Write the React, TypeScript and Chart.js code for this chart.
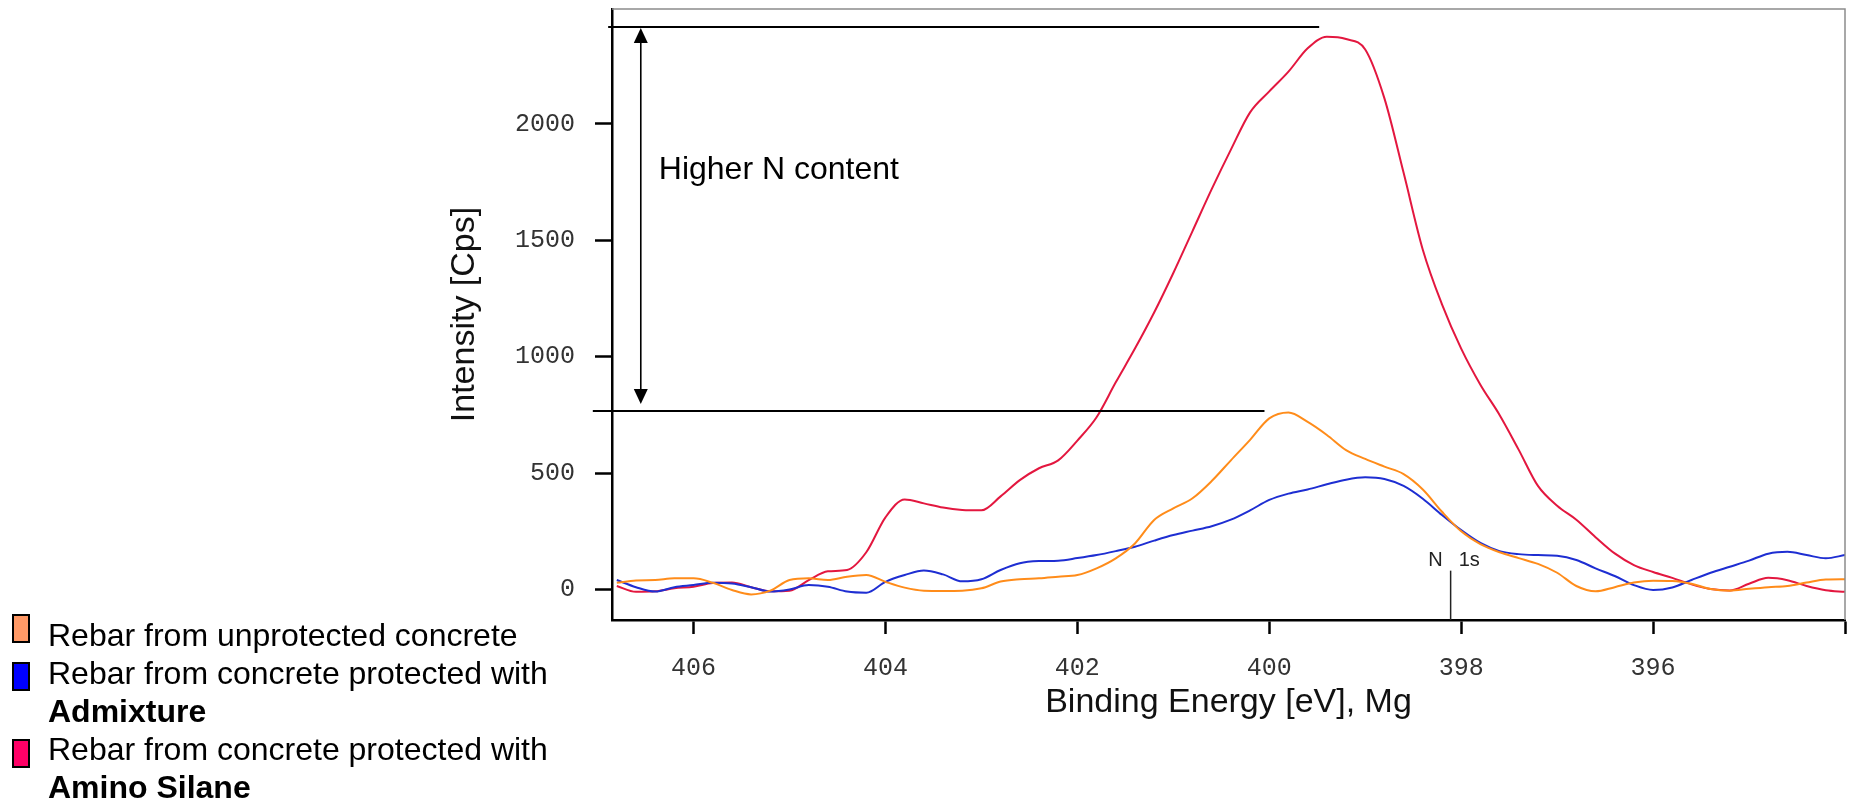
import { useEffect, useRef } from "react";
import { Chart, registerables } from "chart.js";

Chart.register(...registerables);

// Binding energy grid (eV)
const energies = [
  406.8, 406.6, 406.4, 406.2, 406.0, 405.8, 405.6, 405.4, 405.2, 405.0,
  404.8, 404.6, 404.4, 404.2, 404.0, 403.8, 403.6, 403.4, 403.2, 403.0,
  402.8, 402.6, 402.4, 402.2, 402.0, 401.8, 401.6, 401.4, 401.2, 401.0,
  400.8, 400.6, 400.4, 400.2, 400.0, 399.8, 399.6, 399.4, 399.2, 399.0,
  398.8, 398.6, 398.4, 398.2, 398.0, 397.8, 397.6, 397.4, 397.2, 397.0,
  396.8, 396.6, 396.4, 396.2, 396.0, 395.8, 395.6, 395.4, 395.2, 395.0,
  394.8, 394.6, 394.4, 394.2, 394.0,
];

// Rebar from unprotected concrete (orange)
const unprotected = [
  29, 39, 41, 48, 48, 29, -2, -21, -5, 41,
  48, 41, 55, 62, 33, 8, -5, -6, -5, 5,
  34, 44, 48, 55, 62, 91, 134, 198, 299, 349,
  392, 466, 555, 643, 735, 760, 720, 664, 599, 561,
  528, 496, 430, 334, 250, 195, 160, 135, 110, 72,
  15, -8, 10, 30, 38, 37, 25, 2, -5, 3,
  10, 15, 30, 43, 44,
];

// Rebar from concrete protected with Admixture (blue)
const admixture = [
  41, 10, -9, 10, 19, 29, 26, 10, -9, 0,
  19, 12, -9, -14, 33, 62, 82, 65, 35, 44,
  84, 113, 122, 124, 135, 148, 165, 184, 210, 234,
  253, 272, 300, 340, 385, 412, 430, 452, 472, 482,
  475, 445, 390, 320, 255, 200, 165, 152, 148, 145,
  127, 91, 58, 19, -2, 9, 41, 72, 98, 124,
  154, 162, 148, 134, 148,
];

// Rebar from concrete protected with Amino Silane (red)
const aminoSilane = [
  15, -10, -8, 5, 12, 28, 30, 10, -8, -5,
  40, 78, 84, 160, 310, 387, 370, 352, 342, 340,
  400, 470, 521, 555, 640, 740, 890, 1035, 1190, 1360,
  1540, 1720, 1890, 2050, 2140, 2225, 2325, 2375, 2365, 2320,
  2110, 1790, 1460, 1225, 1035, 880, 750, 600, 445, 360,
  300, 225, 155, 105, 75, 50, 22, 2, -4, 25,
  50, 40, 15, -3, -10,
];

const xTicks = [406, 404, 402, 400, 398, 396, 394];
const yTicks = [0, 500, 1000, 1500, 2000];

// annotation values
const levelHigh = 2417;
const levelLow = 767;
const highLineFrom = 406.89;
const highLineTo = 399.48;
const lowLineFrom = 407.05;
const lowLineTo = 400.05;
const arrowEnergy = 406.55;
const noteValue = 1802;
const n1sEnergy = 398.11;
const n1sTop = 81;
const n1sLabelValue = 124;

const SANS = '"Liberation Sans", Arial, sans-serif';
const MONO = '"Liberation Mono", "Courier New", monospace';

export default function App() {
  const canvasRef = useRef<HTMLCanvasElement>(null);

  useEffect(() => {
    const annotations = {
      id: "annotations",
      afterDraw(chart: any) {
        const { ctx, chartArea, scales } = chart;
        const x = scales.x;
        const y = scales.y;
        ctx.save();
        // frame (top + right)
        ctx.strokeStyle = "#8c8c8c";
        ctx.lineWidth = 1.5;
        ctx.beginPath();
        ctx.moveTo(chartArea.left, chartArea.top);
        ctx.lineTo(chartArea.right, chartArea.top);
        ctx.lineTo(chartArea.right, chartArea.bottom);
        ctx.stroke();

        // level lines
        const yHi = y.getPixelForValue(levelHigh);
        const yLo = y.getPixelForValue(levelLow);
        ctx.strokeStyle = "#000";
        ctx.lineWidth = 2;
        ctx.beginPath();
        ctx.moveTo(x.getPixelForValue(highLineFrom), yHi);
        ctx.lineTo(x.getPixelForValue(highLineTo), yHi);
        ctx.moveTo(x.getPixelForValue(lowLineFrom), yLo);
        ctx.lineTo(x.getPixelForValue(lowLineTo), yLo);
        ctx.stroke();

        // double arrow
        const ax = x.getPixelForValue(arrowEnergy);
        const topTip = yHi + 1;
        const botTip = yLo - 7;
        const headL = 15;
        const headW = 7;
        ctx.lineWidth = 1.6;
        ctx.beginPath();
        ctx.moveTo(ax, topTip + headL - 1);
        ctx.lineTo(ax, botTip - headL + 1);
        ctx.stroke();
        ctx.fillStyle = "#000";
        ctx.beginPath();
        ctx.moveTo(ax, topTip);
        ctx.lineTo(ax - headW, topTip + headL);
        ctx.lineTo(ax + headW, topTip + headL);
        ctx.closePath();
        ctx.fill();
        ctx.beginPath();
        ctx.moveTo(ax, botTip);
        ctx.lineTo(ax - headW, botTip - headL);
        ctx.lineTo(ax + headW, botTip - headL);
        ctx.closePath();
        ctx.fill();

        // note text
        ctx.font = `32px ${SANS}`;
        ctx.textBaseline = "middle";
        ctx.textAlign = "left";
        ctx.fillText("Higher N content", ax + 18, y.getPixelForValue(noteValue));

        // N 1s marker
        const nx = x.getPixelForValue(n1sEnergy);
        ctx.strokeStyle = "#222";
        ctx.lineWidth = 1.5;
        ctx.beginPath();
        ctx.moveTo(nx, y.getPixelForValue(n1sTop));
        ctx.lineTo(nx, chartArea.bottom);
        ctx.stroke();
        ctx.fillStyle = "#222";
        ctx.font = `20px ${SANS}`;
        const ly = y.getPixelForValue(n1sLabelValue);
        ctx.textAlign = "right";
        ctx.fillText("N", nx - 8, ly);
        ctx.textAlign = "left";
        ctx.fillText("1s", nx + 8, ly);
        ctx.restore();
      },
    };

    const toPoints = (vals: number[]) => energies.map((e, i) => ({ x: e, y: vals[i] }));

    const chart = new Chart(canvasRef.current as HTMLCanvasElement, {
      type: "line",
      data: {
        datasets: [
          {
            label: "Rebar from unprotected concrete",
            data: toPoints(unprotected),
            borderColor: "#FF8C1A",
            borderWidth: 2,
            pointRadius: 0,
            cubicInterpolationMode: "monotone",
            fill: false,
          },
          {
            label: "Rebar from concrete protected with Admixture",
            data: toPoints(admixture),
            borderColor: "#1E2ED2",
            borderWidth: 2,
            pointRadius: 0,
            cubicInterpolationMode: "monotone",
            fill: false,
          },
          {
            label: "Rebar from concrete protected with Amino Silane",
            data: toPoints(aminoSilane),
            borderColor: "#E3173F",
            borderWidth: 2,
            pointRadius: 0,
            cubicInterpolationMode: "monotone",
            fill: false,
          },
        ],
      },
      options: {
        responsive: false,
        animation: false,
        devicePixelRatio: 1,
        layout: { padding: { left: 0, top: 9, right: 4, bottom: 0 } },
        plugins: { legend: { display: false }, tooltip: { enabled: false } },
        elements: { point: { radius: 0 } },
        scales: {
          x: {
            type: "linear",
            reverse: true,
            min: 394,
            max: 406.85,
            afterBuildTicks: (s: any) => {
              s.ticks = xTicks.map((v) => ({ value: v }));
            },
            afterFit: (s: any) => {
              s.height = 181;
              s.paddingLeft = 0;
              s.paddingRight = 0;
            },
            grid: {
              drawOnChartArea: false,
              drawTicks: true,
              tickLength: 14,
              tickColor: "#000",
              tickWidth: 2.5,
            },
            border: { display: true, color: "#000", width: 2.5 },
            ticks: {
              font: { family: MONO, size: 25 },
              color: "#333",
              padding: 19,
              maxRotation: 0,
              autoSkip: false,
              callback: (v: any) => (v === 394 ? "" : String(v)),
            },
            title: {
              display: true,
              text: "Binding Energy [eV], Mg",
              font: { family: SANS, size: 34 },
              color: "#111",
              padding: { top: 0, bottom: 78 },
            },
          },
          y: {
            type: "linear",
            min: -131,
            max: 2494,
            afterBuildTicks: (s: any) => {
              s.ticks = yTicks.map((v) => ({ value: v }));
            },
            afterFit: (s: any) => {
              s.width = 612;
              s.paddingTop = 0;
              s.paddingBottom = 0;
            },
            grid: {
              drawOnChartArea: false,
              drawTicks: true,
              tickLength: 17,
              tickColor: "#000",
              tickWidth: 2.5,
            },
            border: { display: true, color: "#000", width: 2.5 },
            ticks: {
              font: { family: MONO, size: 25 },
              color: "#333",
              padding: 20,
              callback: (v: any) => String(v),
            },
            title: {
              display: true,
              text: "Intensity [Cps]",
              font: { family: SANS, size: 34 },
              color: "#111",
              padding: { top: 444, bottom: 0 },
            },
          },
        },
      },
      plugins: [annotations],
    } as any);

    return () => chart.destroy();
  }, []);

  const square = (top: number, color: string) => (
    <div
      style={{
        position: "absolute",
        left: 12,
        top,
        width: 18,
        height: 29,
        boxSizing: "border-box",
        border: "2px solid #000",
        background: color,
      }}
    />
  );

  return (
    <div
      style={{
        position: "fixed",
        left: 0,
        top: 0,
        width: 1849,
        height: 801,
        background: "#fff",
        overflow: "hidden",
      }}
    >
      <canvas
        ref={canvasRef}
        width={1849}
        height={801}
        style={{ position: "absolute", left: 0, top: 0, width: 1849, height: 801 }}
      />
      {square(614, "#FF9966")}
      {square(662, "#0000FF")}
      {square(739, "#FF0066")}
      <div
        style={{
          position: "absolute",
          left: 48,
          top: 616,
          fontFamily: SANS,
          fontSize: 32,
          lineHeight: "38px",
          color: "#000",
          whiteSpace: "nowrap",
        }}
      >
        <div>Rebar from unprotected concrete</div>
        <div>Rebar from concrete protected with</div>
        <div style={{ fontWeight: "bold" }}>Admixture</div>
        <div>Rebar from concrete protected with</div>
        <div style={{ fontWeight: "bold" }}>Amino Silane</div>
      </div>
    </div>
  );
}
